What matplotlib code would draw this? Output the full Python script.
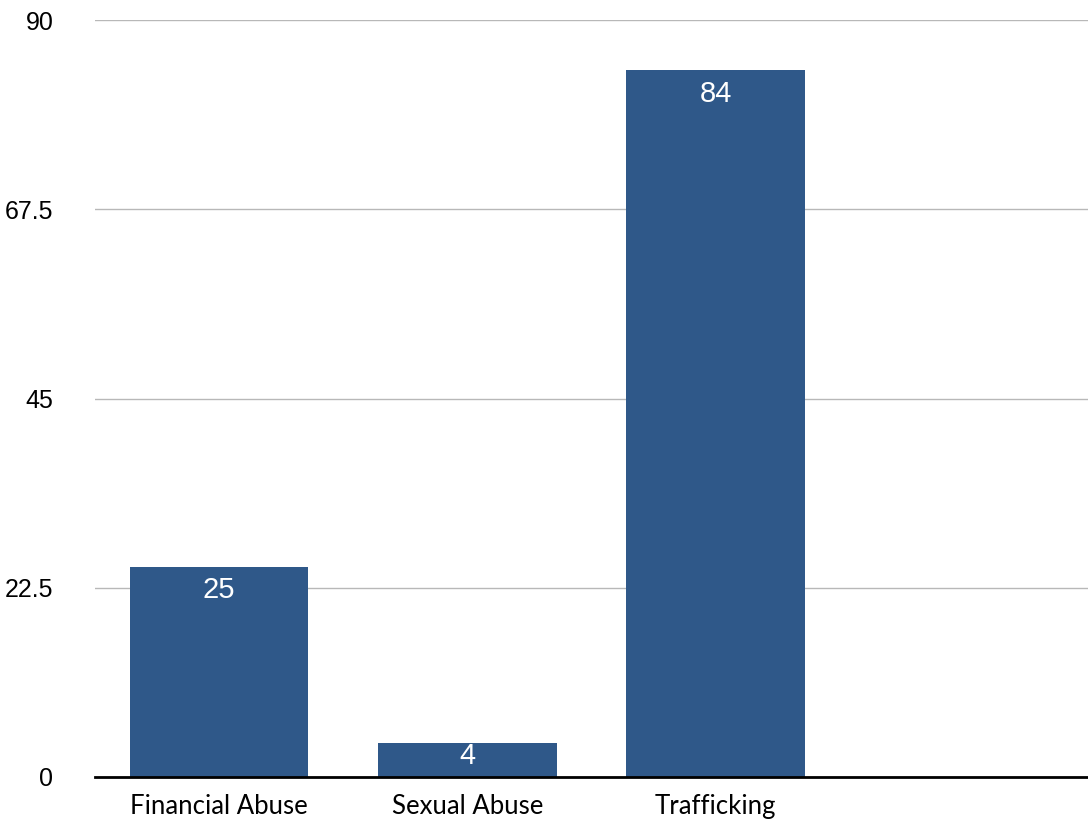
import numpy as np
import matplotlib.pyplot as plt

categories = ['Financial Abuse', 'Sexual Abuse', 'Trafficking', '']
values = [25, 4, 84, None]
yticks = [0, 22.5, 45, 67.5, 90]
ytick_labels = ['0', '22.5', '45', '67.5', '90']

BAR_COLOR = '#2f5889'

fig = plt.figure(figsize=(10.88, 8.27), dpi=100)
ax = fig.add_axes([95 / 1088, 50 / 827, 993 / 1088, 757 / 827])

x = np.arange(len(categories))
for xi, v in zip(x, values):
    if v is None:
        continue
    ax.bar(xi, v, width=0.72, color=BAR_COLOR, zorder=3)
    # value labels inside the bars
    if v > 10:
        ax.annotate(str(v), (xi, v), xytext=(0, -7), textcoords='offset points',
                    ha='center', va='top', color='white', fontsize=21,
                    family='Liberation Sans', zorder=4)
    else:
        ax.annotate(str(v), (xi, v), xytext=(0, 1), textcoords='offset points',
                    ha='center', va='top', color='white', fontsize=21,
                    family='Liberation Sans', zorder=4)

ax.set_xlim(-0.5, len(categories) - 0.5)
ax.set_ylim(0, 90)

ax.set_yticks(yticks)
ax.set_yticklabels(ytick_labels, fontsize=18, family='Liberation Sans')
ax.set_xticks(x)
ax.set_xticklabels(categories, fontsize=18.5, family='Lato')
ax.tick_params(axis='y', length=0, pad=30)
ax.tick_params(axis='x', length=0, pad=12)

ax.yaxis.grid(True, color='#b8b8b8', linewidth=1, zorder=0)
ax.set_axisbelow(True)
for side in ['top', 'right', 'left']:
    ax.spines[side].set_visible(False)
ax.spines['bottom'].set_color('black')
ax.spines['bottom'].set_linewidth(2)
ax.spines['bottom'].set_zorder(5)

fig.savefig('out.png', dpi=100)
